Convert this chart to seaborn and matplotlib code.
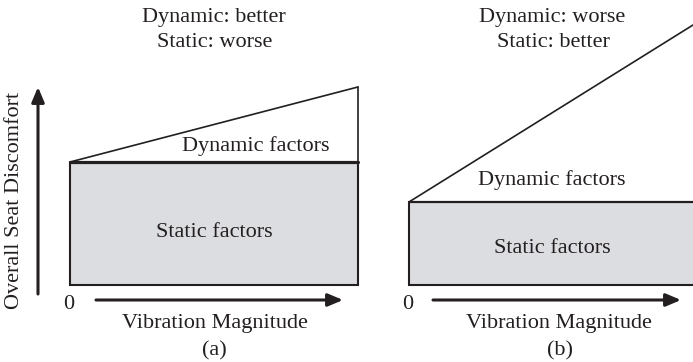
import matplotlib
matplotlib.use("Agg")
import matplotlib.pyplot as plt
import seaborn as sns
import numpy as np
import pandas as pd

# ---- data (schematic levels, relative units) ----
panels = ["(a)", "(b)"]
titles = [["Dynamic: better", "Static: worse"], ["Dynamic: worse", "Static: better"]]
magnitude = [0.0, 1.0]           # vibration magnitude (start, end of range)
static_level = [1.0, 0.675]      # static-factor discomfort (constant)
dynamic_end = [1.61, 2.134]      # total discomfort at max magnitude
x_label = "Vibration Magnitude"
y_label = "Overall Seat Discomfort"
zero_label = "0"

sns.set_theme(style="white")
plt.rcParams["font.family"] = ["Liberation Serif", "DejaVu Serif"]

W, H = 693, 362
fig = plt.figure(figsize=(W / 100, H / 100), dpi=100)
INK = "#231f20"
FILL = "#dcdde0"
FS = 16

# axes placement in pixels: (left, right) ; data x=0 at box-left px, 1 unit = 288 px
ax_px = [(0, 385, 70), (385, 720, 409)]
px_per_x = 288.0
px_per_y = 123.0
box_bottom_px = 285.0


def fx(px):
    return px / W


def fy(py):
    return 1 - py / H


for i, (l, r, x0) in enumerate(ax_px):
    ax = fig.add_axes([l / W, 0, (r - l) / W, 1])
    ax.set_xlim((l - x0) / px_per_x, (r - x0) / px_per_x)
    ax.set_ylim(-(H - box_bottom_px) / px_per_y, box_bottom_px / px_per_y)
    ax.axis("off")
    s = static_level[i]
    d = dynamic_end[i]
    xs = np.array(magnitude)
    # static block
    ax.fill_between(xs, 0, s, color=FILL, lw=0, zorder=1)
    ax.plot([xs[0], xs[0], xs[1], xs[1]], [s, 0, 0, s], color=INK, lw=1.5,
            solid_joinstyle="miter", zorder=3, clip_on=True)
    # static top line
    df_s = pd.DataFrame({"mag": xs, "disc": [s, s]})
    sns.lineplot(data=df_s, x="mag", y="disc", ax=ax, color=INK,
                 lw=2.3 if i == 0 else 1.6, zorder=4)
    # dynamic line
    df_d = pd.DataFrame({"mag": xs, "disc": [s, d]})
    sns.lineplot(data=df_d, x="mag", y="disc", ax=ax, color=INK, lw=1.2, zorder=4)
    ax.plot([xs[1], xs[1]], [s, d], color=INK, lw=1.2, zorder=4)
    ax.set_xlabel("")
    ax.set_ylabel("")

# ---- texts ----
DY = 2.5


def txt(px, py, s, **kw):
    fig.text(fx(px), fy(py + DY), s, ha="center", va="center", fontsize=FS, color=INK, **kw)

# panel (a)
txt(214, 15, titles[0][0])
txt(215, 40, titles[0][1])
txt(256, 144, "Dynamic factors")
txt(214, 230, "Static factors")
txt(69, 302, zero_label)
txt(215, 321, x_label)
txt(214, 348, panels[0])
fig.text(fx(15), fy(200), y_label, rotation=90, ha="center", va="center",
         fontsize=FS, color=INK)

# panel (b)
txt(552, 15, titles[1][0])
txt(553, 40, titles[1][1])
txt(552, 178, "Dynamic factors")
txt(552, 246, "Static factors")
txt(408, 302, zero_label)
txt(559, 321, x_label)
txt(560, 348, panels[1])

# ---- arrows ----
aprops = dict(arrowstyle="-|>,head_length=0.9,head_width=0.38", mutation_scale=10,
              color=INK, lw=2.2, shrinkA=0, shrinkB=0)


def arrow(p0, p1):
    fig.add_artist(matplotlib.patches.FancyArrowPatch(
        (fx(p0[0]), fy(p0[1])), (fx(p1[0]), fy(p1[1])),
        transform=fig.transFigure, **aprops))

arrow((38, 294), (38, 87))
arrow((96, 300), (343, 300))
arrow((433, 300), (681, 300))

fig.savefig("out.png", dpi=100)
